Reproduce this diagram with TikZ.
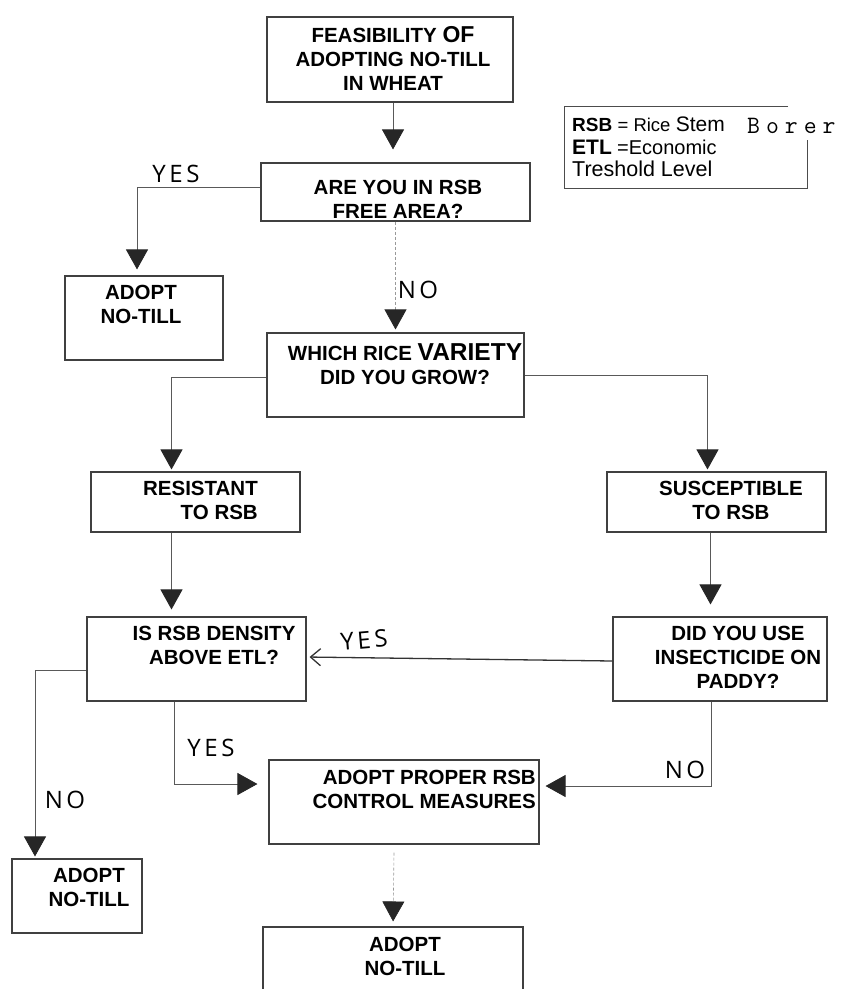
\documentclass[tikz,border=0pt]{standalone}
\usepackage{fontspec}
\setmainfont{Liberation Sans}
\newfontfamily\handfont[LetterSpace=15]{Open Sans}
\usetikzlibrary{arrows.meta}

\tikzset{
  >={Triangle[width=22pt,length=20pt,color=black!85]},
  box/.style={draw=black!75, line width=1.1pt, inner sep=0pt},
  boxtext/.style={anchor=north, align=center, inner sep=0pt,
    font=\fontsize{20.5}{24}\selectfont\bfseries},
  link/.style={->, draw=black!65, line width=0.9pt},
  dlink/.style={->, draw=black!40, line width=0.6pt, densely dashed},
  openlink/.style={-{Straight Barb[length=10pt,width=17pt]}, draw=black!80, line width=1.3pt},
  hand/.style={inner sep=0pt, font=\handfont\fontsize{24}{24}\selectfont},
}

\begin{document}
\begin{tikzpicture}[x=1pt, y=-1pt]
  \useasboundingbox (0,0) rectangle (841,989);
  \clip (0,0) rectangle (841,989);

  % boxes
  \node[box, minimum width=246pt, minimum height=85pt] (feas)    at (390,59.5)  {};
  \node[box, minimum width=269pt, minimum height=58pt] (rsbfree) at (395.5,192) {};
  \node[box, minimum width=158pt, minimum height=84pt] (adopt1)  at (144,318)   {};
  \node[box, minimum width=257pt, minimum height=84pt] (variety) at (395.5,375) {};
  \node[box, minimum width=209pt, minimum height=60pt] (resist)  at (195.5,502) {};
  \node[box, minimum width=219pt, minimum height=60pt] (suscept) at (716.5,502) {};
  \node[box, minimum width=219pt, minimum height=84pt] (density) at (196.5,659) {};
  \node[box, minimum width=214pt, minimum height=84pt] (paddy)   at (720,659)   {};
  \node[box, minimum width=270pt, minimum height=84pt] (control) at (404,802)   {};
  \node[box, minimum width=130pt, minimum height=74pt] (adopt2)  at (77,896)    {};
  \node[box, minimum width=260pt, minimum height=83pt] (adopt3)  at (393,968.5) {};

  % box texts
  \node[boxtext] (feas-t) at (393,26)
    {FEASIBILITY {\fontsize{23}{24}\selectfont OF}\\ADOPTING NO-TILL\\IN WHEAT};
  \node[boxtext] (rsbfree-t) at (398,180) {ARE YOU IN RSB\\FREE AREA?};
  \node[boxtext] (adopt1-t) at (141,285) {ADOPT\\NO-TILL};
  \node[boxtext] (variety-t) at (405,343)
    {WHICH RICE {\fontsize{24.5}{24}\selectfont VARIETY}\\DID YOU GROW?};
  \node[boxtext, anchor=north east, align=right] (resist-t) at (258,481) {RESISTANT\\TO RSB};
  \node[boxtext] (suscept-t) at (731,481) {SUSCEPTIBLE\\TO RSB};
  \node[boxtext] (density-t) at (214,626) {IS RSB DENSITY\\ABOVE ETL?};
  \node[boxtext] (paddy-t) at (738,626) {DID YOU USE\\INSECTICIDE ON\\PADDY?};
  \node[boxtext, anchor=north east, align=right] (control-t) at (536,770)
    {ADOPT PROPER RSB\\CONTROL MEASURES};
  \node[boxtext] (adopt2-t) at (89,868) {ADOPT\\NO-TILL};
  \node[boxtext] (adopt3-t) at (405,937) {ADOPT\\NO-TILL};

  % legend
  \draw[draw=black!70, line width=1pt] (788,106) -| (564,188) -| (807,140);
  \node[anchor=north west, align=left, inner sep=0pt,
        font=\fontsize{19}{22.5}\selectfont] (legend) at (572,117)
    {{\bfseries RSB} {\fontsize{18.5}{22.5}\selectfont = Rice} {\fontsize{21}{22.5}\selectfont Stem}\\
     {\bfseries\fontsize{21}{22.5}\selectfont ETL} {\fontsize{20}{22.5}\selectfont =Economic}\\
     {\fontsize{21.5}{22.5}\selectfont Treshold Level}};
  \node[anchor=base west, inner sep=0pt, font=\ttfamily\fontsize{25}{25}\selectfont] (borer)
    at (747,133) {B\hspace{6pt}o\hspace{6pt}r\hspace{6pt}e\hspace{6pt}r};

  % connectors
  \draw[link, shorten >=13pt] ([xshift=3pt]feas.south) -- ([xshift=3pt]feas.south |- rsbfree.north);
  \draw[link, shorten >=6pt] ([yshift=5pt]rsbfree.west) -| ([xshift=-7pt]adopt1.north);
  \draw[dlink, shorten >=3pt] (rsbfree.south) -- (variety.north);
  \draw[link, shorten >=2pt] ([yshift=-2pt]variety.west) -| ([xshift=-24pt]resist.north);
  \draw[link, shorten >=2pt] (variety.east) -| ([xshift=-9pt]suscept.north);
  \draw[link, shorten >=7pt] ([xshift=-24pt]resist.south) -- ([xshift=-24pt]resist.south |- density.north);
  \draw[link, shorten >=12pt] ([xshift=-6pt]suscept.south) -- ([xshift=-6pt]suscept.south |- paddy.north);
  \draw[openlink, shorten >=3pt] ([yshift=-2pt]paddy.west) -- ([yshift=2pt]density.east);
  \draw[link, shorten >=2pt] ([yshift=-11pt]density.west) -| ([xshift=-42pt]adopt2.north);
  \draw[link, shorten >=11pt] ([xshift=-22pt]density.south) |- ([yshift=18pt]control.west);
  \draw[link, shorten >=6pt] ([xshift=-9pt]paddy.south) |- ([yshift=16pt]control.east);
  \draw[dlink, shorten >=5pt] ([xshift=-10pt,yshift=-8pt]control.south) -- (adopt3.north);

  % handwritten answers
  \node[hand] (yes1) at (176,174) {YES};
  \node[hand] (no1)  at (418,290) {NO};
  \node[hand, rotate=5] (yes2) at (364,640) {YES};
  \node[hand] (yes3) at (211,748) {YES};
  \node[hand] (no2)  at (65,800)  {NO};
  \node[hand] (no3)  at (685,770) {NO};
\end{tikzpicture}
\end{document}
